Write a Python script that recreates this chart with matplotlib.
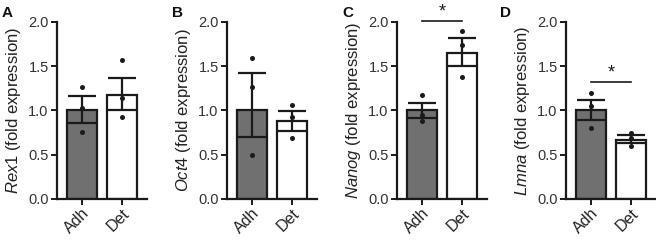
import matplotlib
matplotlib.use("Agg")
import matplotlib.pyplot as plt
import numpy as np

plt.rcParams["font.family"] = ["Liberation Sans", "DejaVu Sans"]
plt.rcParams["mathtext.fontset"] = "custom"
plt.rcParams["mathtext.rm"] = "Liberation Sans"
plt.rcParams["mathtext.it"] = "Liberation Sans:italic"

INK = "#1a1a1a"
ADH_COLOR = "#707070"
DET_COLOR = "#ffffff"

groups = ["Adh", "Det"]
panel_letters = ["A", "B", "C", "D"]
genes = ["Rex1", "Oct4", "Nanog", "Lmna"]

# bar means per gene (Adh, Det)
means = [[1.00, 1.18], [1.00, 0.88], [1.00, 1.65], [1.00, 0.67]]
# SEM upper / lower
err_hi = [[0.16, 0.19], [0.42, 0.11], [0.09, 0.17], [0.12, 0.05]]
err_lo = [[0.14, 0.17], [0.30, 0.11], [0.09, 0.15], [0.11, 0.04]]
# individual replicates
points_adh = [[1.27, 1.03, 0.76], [1.59, 1.26, 0.50], [1.18, 0.95, 0.88], [1.20, 1.05, 0.80]]
points_det = [[1.57, 1.14, 0.93], [1.06, 0.93, 0.69], [1.90, 1.74, 1.38], [0.75, 0.69, 0.60]]
# significance bars: gene index -> line height
sig_marks = {2: 2.01, 3: 1.32}

yticks = [0.0, 0.5, 1.0, 1.5, 2.0]

fig = plt.figure(figsize=(6.56, 2.40), dpi=100)
lefts = [57, 227, 397, 566]
x = np.arange(len(groups))

for i, gene in enumerate(genes):
    ax = fig.add_axes([lefts[i] / 656, 41 / 240, 90 / 656, 177 / 240])
    ax.bar(x, means[i], width=0.75, color=[ADH_COLOR, DET_COLOR],
           edgecolor=INK, linewidth=1.6, zorder=2)
    ax.errorbar(x, means[i], yerr=[err_lo[i], err_hi[i]], fmt="none",
                ecolor=INK, elinewidth=1.6, capsize=10, capthick=1.6, zorder=3)
    ax.scatter(np.zeros(3), points_adh[i], s=13, color=INK, zorder=4, linewidths=0)
    ax.scatter(np.ones(3), points_det[i], s=13, color=INK, zorder=4, linewidths=0)

    if i in sig_marks:
        h = sig_marks[i]
        ax.plot([0, 1], [h, h], color=INK, linewidth=1.2, clip_on=False, zorder=5)
        ax.text(0.5, h + 0.01, "*", ha="center", va="bottom", fontsize=13,
                color=INK, clip_on=False)

    ax.set_xlim(-0.625, 1.625)
    ax.set_ylim(0, 2.0)
    ax.set_yticks(yticks)
    ax.set_yticklabels([f"{v:.1f}" for v in yticks], fontsize=10.5, color="#333333")
    ax.set_xticks(x)
    ax.set_xticklabels(groups, fontsize=11.5, color="#222222", rotation=45,
                       ha="right", rotation_mode="anchor")
    ax.tick_params(axis="both", direction="out", length=4, width=1.4, color=INK, pad=2)
    ax.tick_params(axis="x", pad=1)
    for side in ("top", "right"):
        ax.spines[side].set_visible(False)
    for side in ("left", "bottom"):
        ax.spines[side].set_linewidth(1.6)
        ax.spines[side].set_color(INK)
    ax.set_ylabel(r"$\mathit{" + gene + r"}$ (fold expression)", fontsize=12,
                  color="#222222", labelpad=4)

    fig.text((lefts[i] - 55 if i < 3 else lefts[i] - 66) / 656, 0.945,
             panel_letters[i], fontsize=11, fontweight="bold", ha="left",
             va="center", color="#111111")

fig.savefig("out.png", dpi=100, facecolor="white")
